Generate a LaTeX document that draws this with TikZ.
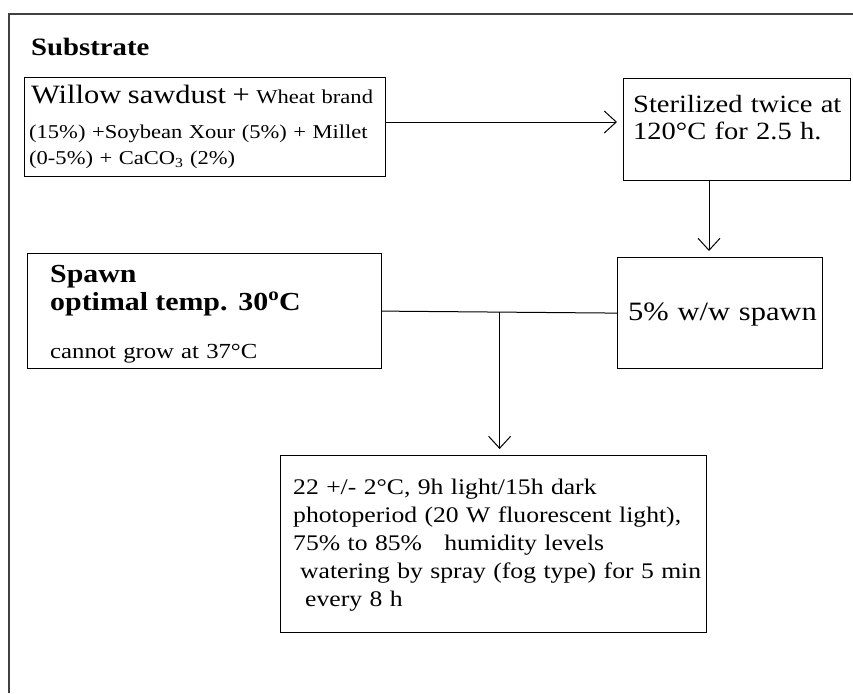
\documentclass[tikz,border=0pt]{standalone}
\usepackage{fontspec}
\setmainfont{Liberation Serif}[FakeStretch=1.15]
\usetikzlibrary{arrows.meta, positioning, calc}

\begin{document}
\begin{tikzpicture}[x=1pt, y=-1pt,
    box/.style={draw, line width=1.2pt, anchor=north west, inner sep=0pt},
    txt/.style={anchor=base west, inner sep=0pt, align=left},
    link/.style={line width=1pt},
    arr/.style={link, -{Straight Barb[length=12pt,width=22pt]}, shorten >=6pt}]
  \useasboundingbox (0,0) rectangle (853,693);
  % Outer frame (runs off on the right and bottom)
  \draw[line width=1.8pt, black!75] (853,14) -- (9,14) -- (9,693);
  % Title
  \node[txt, font=\bfseries\fontsize{25}{29}\selectfont] (title) at (31,56) {Substrate};
  % Boxes
  \node[box, minimum width=361pt, minimum height=99pt]  (sub)    at (24,77)  {};
  \node[box, minimum width=227pt, minimum height=102pt] (ster)   at (623,78) {};
  \node[box, minimum width=354pt, minimum height=115pt] (spawn)  at (27,253) {};
  \node[box, minimum width=205pt, minimum height=111pt] (spw)    at (617,257) {};
  \node[box, minimum width=426pt, minimum height=177pt] (cond)   at (280,455) {};
  % Box texts
  \node[txt, text width=356pt, font=\fontsize{19.6}{26}\selectfont] (subtxt) at (29,103)
    {{\fontsize{26.5}{26}\selectfont\hspace*{2pt}Willow sawdust +} Wheat brand\\[9pt]
     (15\%) +Soybean Xour (5\%) + Millet\\
     (0-5\%) + CaCO\textsubscript{3} (2\%)};
  \node[txt, text width=220pt, font=\fontsize{24.8}{27}\selectfont] (stertxt) at (633,112)
    {Sterilized twice at\\120°C for 2.5 h.};
  \node[txt, text width=330pt, font=\fontsize{21.5}{28}\selectfont] (spawntxt) at (50,282)
    {{\bfseries\fontsize{26}{28}\selectfont Spawn\\optimal temp. 30\textsuperscript{o}C}\\[20pt]
     cannot grow at 37°C};
  \node[txt, text width=200pt, font=\fontsize{26.5}{28}\selectfont] (spwtxt) at (628,320)
    {5\% w/w spawn};
  \node[txt, text width=420pt, font=\fontsize{22.3}{28}\selectfont] (condtxt) at (293,494)
    {22 +/- 2°C, 9h light/15h dark\\
     photoperiod (20 W fluorescent light),\\
     75\% to 85\%\ \ \ humidity levels\\
     \hspace*{7pt}watering by spray (fog type) for 5 min\\
     \hspace*{12pt}every 8 h};
  % Junctions
  \coordinate (drop) at (709,0);
  \coordinate (jn) at ($(spawn.east)!0.5!(spw.west)$);
  % Connectors
  \draw[arr] (sub.east |- 0,122) -- (ster.west |- 0,122);
  \draw[arr] (ster.south -| drop) -- (spw.north -| drop);
  \draw[link] (spawn.east) -- (spw.west);
  \draw[arr] (jn) -- (jn |- cond.north);
\end{tikzpicture}
\end{document}
